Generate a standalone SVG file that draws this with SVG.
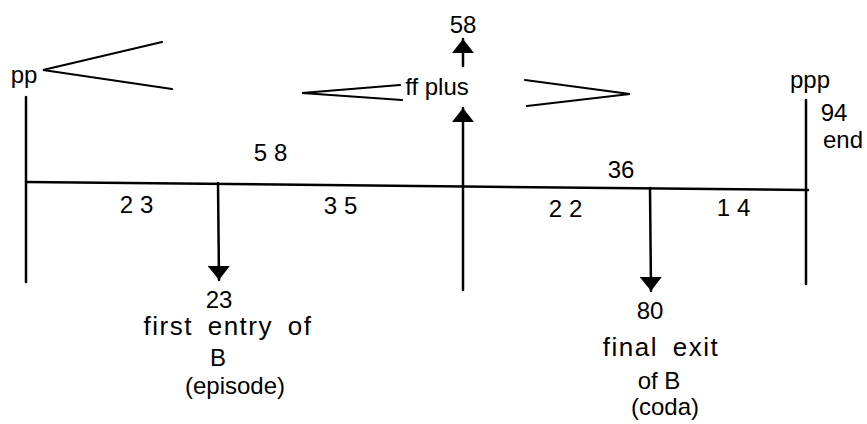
<svg xmlns="http://www.w3.org/2000/svg" width="867" height="424" viewBox="0 0 867 424">
<style>
.ln{stroke:#000;stroke-width:2.5;fill:none;stroke-linecap:round}
.hp{stroke:#000;stroke-width:2.2;fill:none;stroke-linecap:round}
.t{font-family:"Liberation Sans",Arial,sans-serif;font-size:24px;fill:#000;text-anchor:middle}
.n{letter-spacing:7px}
.w{font-size:26px;letter-spacing:1.5px;word-spacing:6px}
</style>
<defs>
<marker id="ah" viewBox="0 0 10 10" refX="10" refY="5" markerUnits="userSpaceOnUse" markerWidth="14" markerHeight="22" orient="auto" preserveAspectRatio="none">
<path d="M0,0 L10,5 L0,10 z" fill="#000"/>
</marker>
</defs>
<rect width="867" height="424" fill="#fff"/>
<g id="connectors">
<path class="ln" d="M26,182 L808,190"/>
<path class="ln" d="M26,97 L26,282"/>
<path class="ln" d="M806,100 L806,284"/>
<path class="ln" d="M463,290 L463,108" marker-end="url(#ah)"/>
<path class="ln" d="M463,66 L463,39" marker-end="url(#ah)"/>
<path class="ln" d="M218,183 L219,280" marker-end="url(#ah)"/>
<path class="ln" d="M650,188 L651,291" marker-end="url(#ah)"/>
</g>
<g id="pp">
<text class="t" x="24" y="83">pp</text>
<path class="hp" d="M162,42 L43,70 L172,89"/>
</g>
<g id="ffplus">
<path class="hp" d="M400,85 L302,93 L402,100"/>
<text class="t" x="437" y="95">ff plus</text>
<path class="hp" d="M525,80 L630,94 L527,106"/>
</g>
<g id="top58">
<text class="t" x="463" y="33">58</text>
</g>
<g id="ppp">
<text class="t" x="810" y="88">ppp</text>
<text class="t" x="834" y="121">94</text>
<text class="t" x="843" y="148">end</text>
</g>
<g id="span58">
<text class="t n" x="274" y="161">58</text>
</g>
<g id="span36">
<text class="t" x="621" y="178">36</text>
</g>
<g id="seg23">
<text class="t n" x="140" y="213">23</text>
</g>
<g id="seg35">
<text class="t n" x="344" y="214">35</text>
</g>
<g id="seg22">
<text class="t n" x="569" y="217">22</text>
</g>
<g id="seg14">
<text class="t n" x="737" y="216">14</text>
</g>
<g id="entry">
<text class="t" x="219" y="308">23</text>
<text class="t w" x="228" y="335">first entry of</text>
<text class="t" x="218" y="366">B</text>
<text class="t" x="235" y="394">(episode)</text>
</g>
<g id="exit">
<text class="t" x="650" y="319">80</text>
<text class="t w" x="661" y="356">final exit</text>
<text class="t" x="659" y="389">of B</text>
<text class="t" x="665" y="415">(coda)</text>
</g>
</svg>
